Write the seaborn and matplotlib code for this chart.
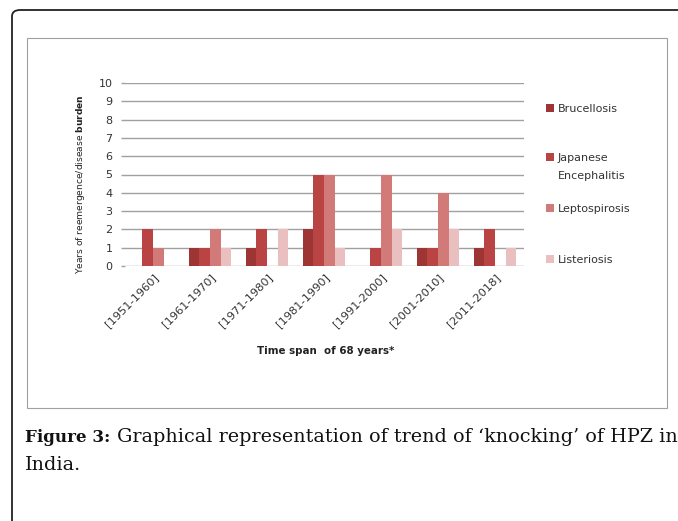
import matplotlib
matplotlib.use("Agg")
import matplotlib.pyplot as plt
from matplotlib.patches import FancyBboxPatch, Rectangle
import seaborn as sns
import pandas as pd

periods = ["[1951-1960]", "[1961-1970]", "[1971-1980]", "[1981-1990]",
           "[1991-2000]", "[2001-2010]", "[2011-2018]"]
brucellosis = [0, 1, 1, 2, 0, 1, 1]
japanese_enc = [2, 1, 2, 5, 1, 1, 2]
leptospirosis = [1, 2, 0, 5, 5, 4, 0]
listeriosis = [0, 1, 2, 1, 2, 2, 1]
diseases = ["Brucellosis", "Japanese Encephalitis", "Leptospirosis", "Listeriosis"]
colors = ["#9E3535", "#BA4443", "#D27A78", "#E9C0BF"]

rows = []
for name, vals in zip(diseases, [brucellosis, japanese_enc, leptospirosis, listeriosis]):
    for p, v in zip(periods, vals):
        rows.append({"Period": p, "Disease": name, "Value": v})
df = pd.DataFrame(rows)

sns.set_style("white")
plt.rcParams["font.family"] = ["DejaVu Sans"]

W, H = 678, 521
fig = plt.figure(figsize=(W / 100, H / 100), dpi=100)

def fx(px):
    return px / W

def fy(py):
    return 1 - py / H

# outer rounded frame and inner chart box
fig.patches.append(FancyBboxPatch((fx(12), -0.2), fx(720 - 12), (H - 10) / H + 0.2,
                                  boxstyle="round,pad=0,rounding_size=0.012",
                                  transform=fig.transFigure, fill=False,
                                  edgecolor="#222222", linewidth=1.3))
fig.patches.append(Rectangle((fx(27), fy(408)), fx(667 - 27), (408 - 38) / H,
                             transform=fig.transFigure, fill=False,
                             edgecolor="#A0A0A0", linewidth=0.8))

ax = fig.add_axes([fx(124.5), fy(266), fx(523.5 - 124.5), (266 - 83) / H])
sns.barplot(data=df, x="Period", y="Value", hue="Disease", palette=colors,
            width=0.74, ax=ax, saturation=1, linewidth=0)

ax.set_ylim(0, 10)
ax.set_yticks(range(0, 11))
ax.yaxis.grid(True, color="#A0A0A0", linewidth=1)
ax.set_axisbelow(True)
for s in ["top", "right", "bottom", "left"]:
    ax.spines[s].set_visible(False)
ax.tick_params(axis="y", labelsize=8, length=3.2, width=1, color="#A0A0A0", pad=5.5,
               left=True, labelcolor="#333333")
ax.tick_params(axis="x", labelsize=8.2, length=0, pad=4, labelcolor="#333333")
plt.setp(ax.get_xticklabels(), rotation=45, ha="right", rotation_mode="anchor")

ax.set_xlabel("Time span  of 68 years*", fontsize=7.4, fontweight="bold", color="#222222")
ax.xaxis.set_label_coords(0.505, (266 - 346) / 183)
ax.set_ylabel("Years of reemergence/disease $\\bf{burden}$", fontsize=6.6, color="#222222")
ax.yaxis.set_label_coords((87 - 124.5) / 399, (266 - 184) / 183)

# legend entries placed one by one, as in the original layout
handles, labels = ax.get_legend_handles_labels()
ax.get_legend().remove()
legend_y = [109, 158, 209, 260]
legend_txt = ["Brucellosis", "Japanese", "Leptospirosis", "Listeriosis"]
for h, t, y in zip(handles, legend_txt, legend_y):
    fig.legend([h], [t], loc="center left", bbox_to_anchor=(fx(546), fy(y)),
               frameon=False, fontsize=8, borderpad=0, borderaxespad=0,
               handlelength=0.72, handleheight=0.72, handletextpad=0.36,
               labelcolor="#333333")
fig.text(fx(558), fy(176), "Encephalitis", fontsize=8, va="center", color="#333333")

# caption
cap_size = 13
bold = fig.text(fx(25), fy(442), "Figure 3:", fontsize=cap_size, fontweight="bold",
                family="DejaVu Serif", va="baseline", color="#111111")
rest = fig.text(fx(117), fy(442), "Graphical representation of trend of \u2018knocking\u2019 of HPZ in",
                fontsize=cap_size, family="DejaVu Serif", va="baseline", color="#111111")
india = fig.text(fx(25), fy(470), "India.", fontsize=cap_size, family="DejaVu Serif",
                 va="baseline", color="#111111")
fig.canvas.draw()
r = fig.canvas.get_renderer()
scale = (675 - 117) / rest.get_window_extent(r).width
rest.set_fontsize(cap_size * scale)
india.set_fontsize(cap_size * scale)
bscale = (110 - 25) / bold.get_window_extent(r).width
bold.set_fontsize(cap_size * bscale)

fig.savefig("out.png", dpi=100, facecolor="white")
